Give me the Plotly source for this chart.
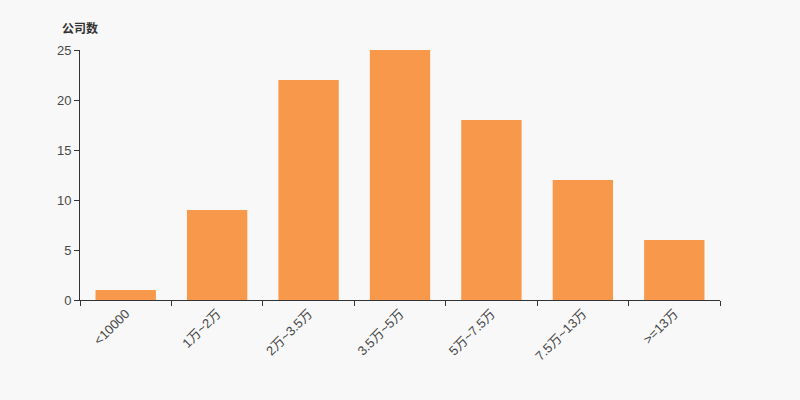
import plotly.graph_objects as go

categories = ["<10000", "1万~2万", "2万~3.5万", "3.5万~5万", "5万~7.5万", "7.5万~13万", ">=13万"]
counts = [1, 9, 22, 25, 18, 12, 6]
y_ticks = [0, 5, 10, 15, 20, 25]

font_family = "Liberation Sans, Noto Sans CJK SC, sans-serif"

fig = go.Figure(go.Bar(x=categories, y=counts, marker=dict(color="#f7984a", line=dict(width=0)),
                       hoverinfo="x+y"))

fig.update_layout(
    width=800, height=400,
    paper_bgcolor="#f8f8f8", plot_bgcolor="#f8f8f8",
    margin=dict(l=80, r=80, t=50, b=100),
    bargap=0.34,
    showlegend=False,
    font=dict(family=font_family, size=13, color="#444"),
    xaxis=dict(
        type="category", tickson="boundaries", ticks="outside", ticklen=5, tickcolor="#333",
        showline=True, linecolor="#333", linewidth=1, showgrid=False, tickangle=-45,
        tickfont=dict(size=13, color="#484848"), fixedrange=True,
    ),
    yaxis=dict(
        range=[0, 25], tickvals=y_ticks, ticks="outside", ticklen=5, tickcolor="#333",
        showline=True, linecolor="#333", linewidth=1, showgrid=False, zeroline=False,
        tickfont=dict(size=13, color="#484848"), fixedrange=True,
    ),
    annotations=[dict(text="<b>公司数</b>", x=0, y=1.0, xref="paper", yref="paper",
                      xanchor="center", yanchor="middle", yshift=23, showarrow=False,
                      font=dict(size=12, color="#333", family="Noto Sans CJK SC"))],
)

fig.write_html("out.html", config={"displayModeBar": False},
               post_script="document.body.style.margin='0';document.body.style.background='#f8f8f8';")
